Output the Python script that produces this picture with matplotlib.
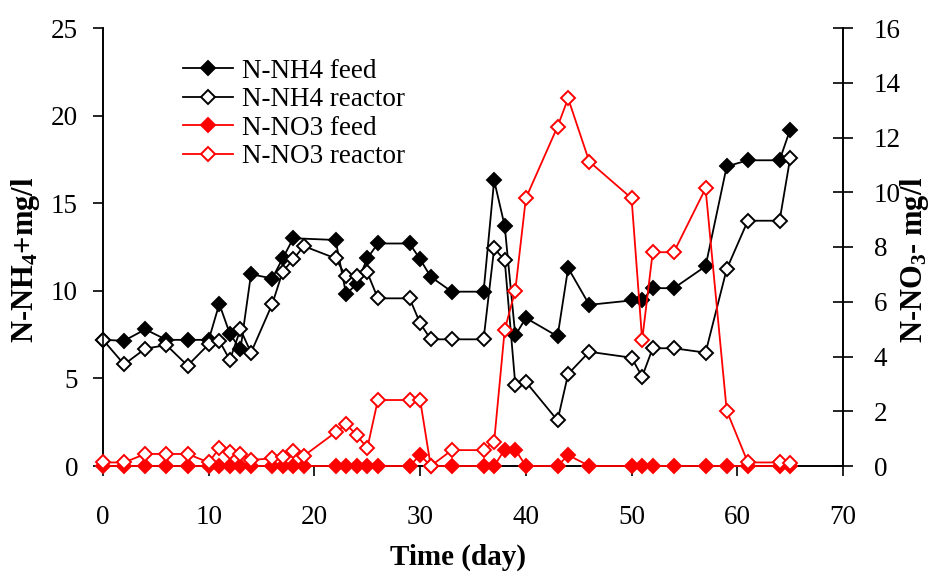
import matplotlib
matplotlib.use("Agg")
import matplotlib.pyplot as plt

plt.rcParams['font.family'] = ['Liberation Serif', 'DejaVu Serif']
plt.rcParams['mathtext.fontset'] = 'custom'
plt.rcParams['mathtext.rm'] = 'Liberation Serif'
plt.rcParams['mathtext.bf'] = 'Liberation Serif:bold'
plt.rcParams['mathtext.it'] = 'Liberation Serif:italic'

days = [0, 2, 4, 6, 8, 10, 11, 12, 13, 14, 16, 17, 18, 19, 22, 23, 24, 25, 26, 29,
        30, 31, 33, 36, 37, 38, 39, 40, 43, 44, 46, 50, 51, 52, 54, 57, 59, 61, 64, 65]

feed_days = [0, 2, 4, 6, 8, 10, 11, 12, 13, 14, 16, 17, 18, 22, 23, 24, 25, 26, 29,
             30, 31, 33, 36, 37, 38, 39, 40, 43, 44, 46, 50, 51, 52, 54, 57, 59, 61, 64, 65]
nh4_feed = [7.2, 7.15, 7.8, 7.2, 7.2, 7.2, 9.25, 7.55, 6.65, 10.95, 10.7, 11.85, 13.0,
            12.9, 9.8, 10.4, 11.85, 12.7, 12.7, 11.8, 10.8, 9.95, 9.95, 16.3, 13.7, 7.45,
            8.45, 7.4, 11.3, 9.2, 9.45, 9.45, 10.15, 10.15, 11.4, 17.1, 17.45, 17.45, 19.2]

nh4_reactor = [7.2, 5.8, 6.7, 6.9, 5.73, 6.95, 7.15, 6.05, 7.8, 6.47, 9.23, 11.1, 11.8,
               12.55, 11.85, 10.82, 10.84, 11.05, 9.57, 9.57, 8.15, 7.23, 7.23, 7.23,
               12.42, 11.75, 4.65, 4.8, 2.6, 5.25, 6.52, 6.18, 5.1, 6.72, 6.72, 6.47,
               11.24, 14.0, 14.0, 17.56]

no3_feed = [0, 0, 0, 0, 0, 0, 0, 0, 0, 0, 0, 0, 0, 0, 0, 0, 0, 0, 0, 0,
            0.4, 0, 0, 0, 0, 0.6, 0.6, 0, 0, 0.4, 0, 0, 0, 0, 0, 0, 0, 0, 0, 0]

no3_reactor = [0.13, 0.13, 0.44, 0.44, 0.44, 0.13, 0.65, 0.52, 0.44, 0.22, 0.28, 0.34,
               0.56, 0.37, 1.23, 1.52, 1.13, 0.65, 2.41, 2.41, 2.41, 0.0, 0.58, 0.58,
               0.89, 4.98, 6.41, 9.78, 12.4, 13.43, 11.12, 9.78, 4.6, 7.81, 7.81, 10.14,
               2.02, 0.13, 0.13, 0.1]

labels = ['N-NH4 feed', 'N-NH4 reactor', 'N-NO3 feed', 'N-NO3 reactor']

fig = plt.figure(figsize=(9.32, 5.72), dpi=100)
ax = fig.add_axes([103/932, 1-466/572, (843-103)/932, (466-28)/572])
ax2 = ax.twinx()

ms = 7.3
lw = 1.3
mew = 1.4

l1, = ax.plot(feed_days, nh4_feed, color='black', lw=lw, marker='D', ms=ms,
              mfc='black', mec='black', mew=mew, zorder=3, clip_on=False)
l2, = ax.plot(days, nh4_reactor, color='black', lw=lw, marker='D', ms=ms,
              mfc='white', mec='black', mew=mew, zorder=4, clip_on=False)
l3, = ax2.plot(days, no3_feed, color='red', lw=lw, marker='D', ms=ms,
               mfc='red', mec='red', mew=mew, zorder=3, clip_on=False)
l4, = ax2.plot(days, no3_reactor, color='red', lw=lw, marker='D', ms=ms,
               mfc='white', mec='red', mew=mew, zorder=4, clip_on=False)

ax.set_xlim(0, 70)
ax.set_ylim(0, 25)
ax2.set_ylim(0, 16)
ax.set_xticks(range(0, 71, 10))
ax.set_yticks(range(0, 26, 5))
ax2.set_yticks(range(0, 17, 2))

for a in (ax, ax2):
    a.spines['top'].set_visible(False)
    for s in a.spines.values():
        s.set_linewidth(1.2)

ax.tick_params(axis='x', direction='out', length=7, width=1.2, pad=21, labelsize=19.5)
ax.tick_params(axis='y', direction='out', length=7, width=1.2, pad=11, labelsize=19.5)
ax2.tick_params(axis='y', direction='inout', length=14, width=1.2, pad=15, labelsize=19.5)

ax.set_xlabel('Time (day)', fontsize=21, fontweight='bold')
ax.xaxis.set_label_coords(0.48, -0.178)
ax.set_ylabel(r'N-NH$_\mathbf{4}$+mg/l', fontsize=22, fontweight='bold')
ax.yaxis.set_label_coords(-0.083, 0.47)
ax2.set_ylabel(r'N-NO$_\mathbf{3}$- mg/l', fontsize=22, fontweight='bold')
ax2.yaxis.set_label_coords(1.075, 0.47)

ax2.legend([l1, l2, l3, l4], labels, loc='upper left', bbox_to_anchor=(0.093, 0.955),
           frameon=False, fontsize=19.5, handlelength=1.85, handletextpad=0.35,
           labelspacing=0.13, borderaxespad=0)

fig.savefig('out.png', dpi=100)
